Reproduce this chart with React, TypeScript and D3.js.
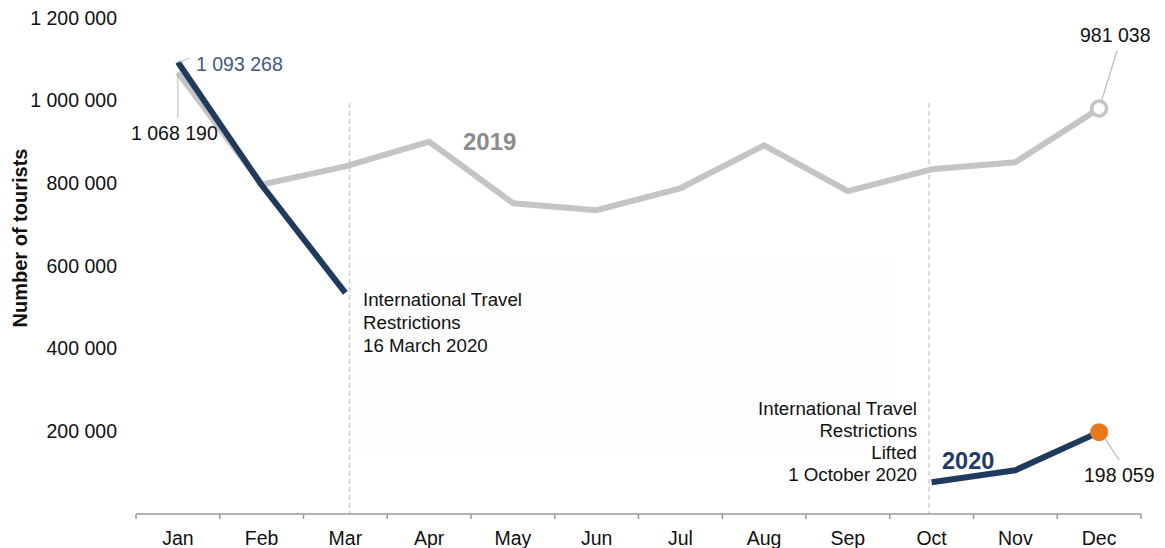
import React from "react";
import * as d3 from "d3";

const months = ["Jan","Feb","Mar","Apr","May","Jun","Jul","Aug","Sep","Oct","Nov","Dec"];
const tourists2019 = [1068190, 797000, 841000, 901000, 752000, 735000, 788000, 892000, 781000, 834000, 851000, 981038];
const tourists2020: (number | null)[] = [1093268, 796000, 535000, null, null, null, null, null, null, 77000, 106000, 198059];
const yTicks = [200000, 400000, 600000, 800000, 1000000, 1200000];
const eventMonthPos = [2.05, 8.97];

const W = 1165, H = 548;
const FONT = "'Liberation Sans', Arial, sans-serif";
const fmt = (v: number) => d3.format(",")(v).replace(/,/g, " ");

export default function App() {
  const x = d3.scaleBand<string>().domain(months).range([136, 1141]).padding(0);
  const bw = x.bandwidth();
  const cx = (i: number) => (x(months[i]) as number) + bw / 2;
  const xPos = d3.scaleLinear().domain([0, 11]).range([cx(0), cx(11)]);
  const y = d3.scaleLinear().domain([0, 1200000]).range([514, 18]);

  const line = d3.line<number | null>()
    .defined((d) => d != null)
    .x((_, i) => cx(i))
    .y((d) => y(d as number));

  const lineStr19 = line(tourists2019) as string;
  const lineStr20 = line(tourists2020) as string;

  const axisY = y(0);
  const boundaries = d3.range(months.length + 1).map((i) => 136 + i * bw);

  const dec19 = { x: cx(11), y: y(tourists2019[11]) };
  const dec20 = { x: cx(11), y: y(tourists2020[11] as number) };
  const jan19 = { x: cx(0), y: y(tourists2019[0]) };
  const jan20 = { x: cx(0), y: y(tourists2020[0] as number) };

  const shadeX0 = xPos(eventMonthPos[0]) + 5;
  const shadeX1 = xPos(8.55);
  const shadeY0 = y(620000);
  const shadeY1 = y(150000);

  return (
    <svg width={W} height={H} style={{ position: "absolute", left: 0, top: 0, display: "block", background: "#fff" }} fontFamily={FONT}>
      <defs>
        <pattern id="dots" width="4" height="4" patternUnits="userSpaceOnUse">
          <rect x="1" y="1" width="1" height="1" fill="#ececec" />
        </pattern>
      </defs>
      <rect x={shadeX0} y={shadeY0} width={shadeX1 - shadeX0} height={shadeY1 - shadeY0} fill="url(#dots)" />

      {/* y tick labels */}
      {yTicks.map((t) => (
        <text key={t} x={117} y={y(t)} dy="0.35em" textAnchor="end" fontSize={19.5} fill="#111">{fmt(t)}</text>
      ))}
      <text transform={`translate(27,238) rotate(-90)`} textAnchor="middle" fontSize={20} fontWeight="bold" fill="#111">Number of tourists</text>

      {/* event dashed lines */}
      {eventMonthPos.map((p, i) => (
        <line key={i} x1={xPos(p)} x2={xPos(p)} y1={103} y2={axisY} stroke="#cfcfcf" strokeWidth={1.5} strokeDasharray="5,3" />
      ))}

      {/* x axis */}
      <line x1={136} x2={1141} y1={axisY} y2={axisY} stroke="#999" strokeWidth={1.5} />
      {boundaries.map((b, i) => (
        <line key={i} x1={b} x2={b} y1={axisY} y2={axisY + 5} stroke="#999" strokeWidth={1.5} />
      ))}
      {months.map((m, i) => (
        <text key={m} x={cx(i)} y={545} textAnchor="middle" fontSize={19.5} fill="#111">{m}</text>
      ))}

      {/* lines */}
      <path d={lineStr19} fill="none" stroke="#c4c4c4" strokeWidth={6} strokeLinejoin="round" />
      <path d={lineStr20} fill="none" stroke="#203a5e" strokeWidth={6} strokeLinejoin="round" />

      {/* leader lines */}
      <line x1={jan20.x + 1} y1={jan20.y} x2={jan20.x + 12} y2={jan20.y - 4} stroke="#bbb" strokeWidth={1} />
      <line x1={jan19.x} y1={jan19.y + 1} x2={jan19.x} y2={jan19.y + 46} stroke="#bbb" strokeWidth={1} />
      <line x1={dec19.x} y1={dec19.y} x2={dec19.x + 18} y2={dec19.y - 58} stroke="#bbb" strokeWidth={1.2} />
      <line x1={dec20.x + 5} y1={dec20.y + 5} x2={dec20.x + 20} y2={dec20.y + 28} stroke="#bbb" strokeWidth={1.2} />

      {/* markers */}
      <circle cx={dec19.x} cy={dec19.y} r={7.5} fill="#fff" stroke="#c4c4c4" strokeWidth={3.5} />
      <circle cx={dec20.x} cy={dec20.y} r={9} fill="#e8781c" />

      {/* value labels */}
      <text x={196} y={jan20.y + 2} dy="0.35em" fontSize={19.5} fill="#3f5a7c">{fmt(tourists2020[0] as number)}</text>
      <text x={131} y={133} dy="0.35em" fontSize={19.5} fill="#111">{fmt(tourists2019[0])}</text>
      <text x={1080} y={35} dy="0.35em" fontSize={19.5} fill="#111">{fmt(tourists2019[11])}</text>
      <text x={1084} y={475} dy="0.35em" fontSize={19.5} fill="#111">{fmt(tourists2020[11] as number)}</text>

      {/* series labels */}
      <text x={463} y={150} fontSize={24} fontWeight="bold" fill="#8c8c8c">2019</text>
      <text x={942} y={469} fontSize={23.5} fontWeight="bold" fill="#1f3a6b">2020</text>

      {/* annotations */}
      <text fontSize={18.7} fill="#111">
        <tspan x={363} y={306}>International Travel</tspan>
        <tspan x={363} y={329}>Restrictions</tspan>
        <tspan x={363} y={352}>16 March 2020</tspan>
      </text>
      <text fontSize={18.7} fill="#111" textAnchor="end">
        <tspan x={917} y={415}>International Travel</tspan>
        <tspan x={917} y={437}>Restrictions</tspan>
        <tspan x={917} y={459}>Lifted</tspan>
        <tspan x={917} y={481}>1 October 2020</tspan>
      </text>
    </svg>
  );
}
